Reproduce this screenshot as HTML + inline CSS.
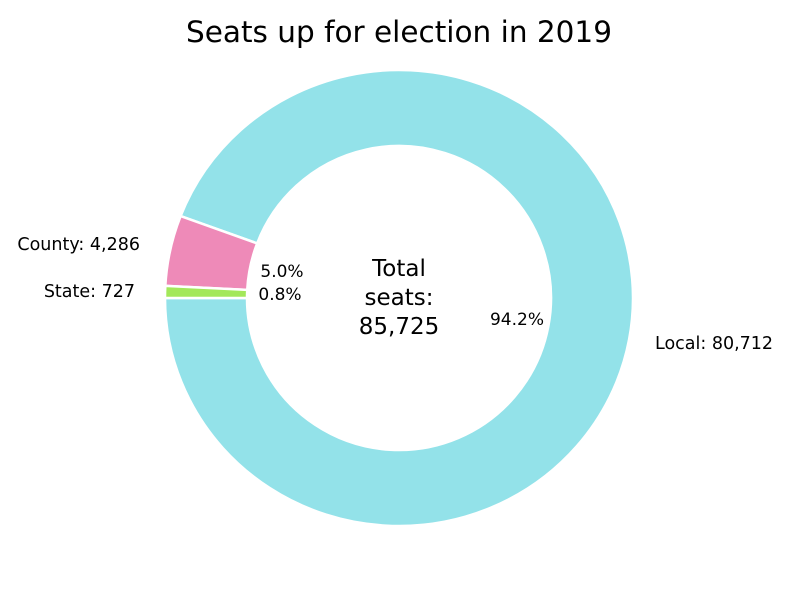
<!DOCTYPE html>
<html><head><meta charset="utf-8"><style>
body{margin:0;background:#fff;}
svg text{font-family:"DejaVu Sans","Liberation Sans",sans-serif;fill:#000;}
</style></head><body>
<svg width="800" height="596">
<text x="399" y="42" font-size="29.5" text-anchor="middle">Seats up for election in 2019</text>
<g id="slices"></g>
<g id="labels"></g>
<text x="399" y="276" font-size="23" text-anchor="middle">Total</text>
<text x="399" y="305" font-size="23" text-anchor="middle">seats:</text>
<text x="399" y="334" font-size="23" text-anchor="middle">85,725</text>
</svg>
<script>
const categories=["Local","County","State"];
const values=[80712,4286,727];
const colors=["#93e2e9","#ee8ab8","#a3e85a"];
const cx=399,cy=298,rx=234,ry=228,ir=152;
const total=values.reduce((a,b)=>a+b,0);
const ns="http://www.w3.org/2000/svg";
const gs=document.getElementById('slices'),gl=document.getElementById('labels');
function pt(a,r,sx){const t=a*Math.PI/180;return [cx+r*(sx?rx/231:1)*Math.cos(t),cy-r*(sx?ry/231:1)*Math.sin(t)];}
let a0=180;
const outerLabelPos=[[655,349,"start"],[140,250,"end"],[135,297,"end"]];
const pctPos=[[517,325],[282,277],[280,300]];
values.forEach((v,i)=>{
  const sweep=v/total*360,a1=a0+sweep;
  const large=sweep>180?1:0;
  const p0=pt(a0,231,1),p1=pt(a1,231,1),q1=pt(a1,ir),q0=pt(a0,ir);
  const d=`M${p0[0]},${p0[1]} A${rx},${ry} 0 ${large} 0 ${p1[0]},${p1[1]} L${q1[0]},${q1[1]} A${ir},${ir} 0 ${large} 1 ${q0[0]},${q0[1]} Z`;
  const p=document.createElementNS(ns,'path');
  p.setAttribute('d',d);p.setAttribute('fill',colors[i]);p.setAttribute('stroke','#fff');p.setAttribute('stroke-width','2.5');
  
  
  gs.appendChild(p);
  const t=document.createElementNS(ns,'text');
  t.setAttribute('x',outerLabelPos[i][0]);t.setAttribute('y',outerLabelPos[i][1]);t.setAttribute('text-anchor',outerLabelPos[i][2]);t.setAttribute('font-size','17.5');
  t.textContent=categories[i]+": "+v.toLocaleString('en-US');
  
  
  gl.appendChild(t);
  const pc=document.createElementNS(ns,'text');
  pc.setAttribute('x',pctPos[i][0]);pc.setAttribute('y',pctPos[i][1]);pc.setAttribute('text-anchor','middle');pc.setAttribute('font-size','17');
  pc.textContent=(v/total*100).toFixed(1)+"%";
  
  
  gl.appendChild(pc);
  a0=a1;
});
</script>
</body></html>
